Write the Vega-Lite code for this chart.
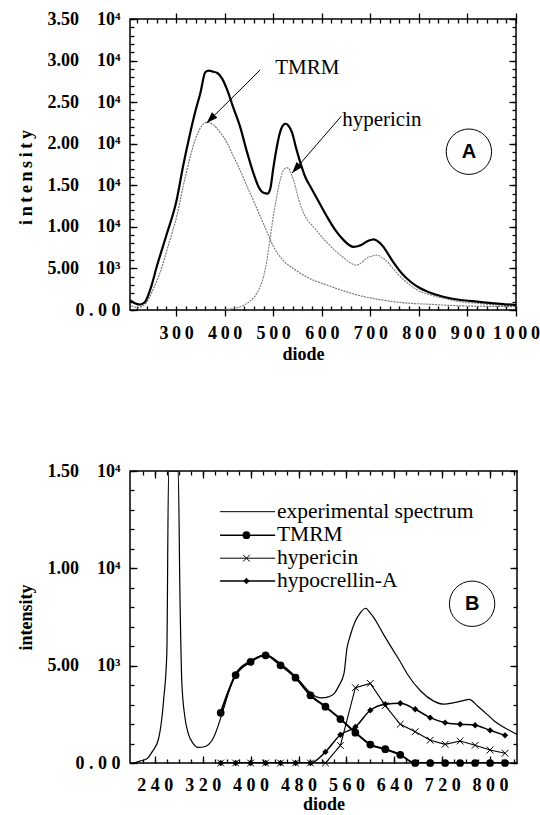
{
  "$schema": "https://vega.github.io/schema/vega-lite/v6.json",
  "padding": {"left": 16, "top": 9, "right": 0, "bottom": 0},
  "spacing": 97,
  "background": "white",
  "config": {
    "font": "Liberation Serif",
    "view": {"stroke": "#000", "strokeWidth": 1.5},
    "axis": {"grid": false, "domain": false, "tickColor": "#000", "tickWidth": 1.3, "labelColor": "#000", "labelFont": "Liberation Serif", "labelFontSize": 18, "labelFontWeight": "bold", "titleFont": "Liberation Serif", "titleFontSize": 18, "titleFontWeight": "bold", "titleColor": "#000", "labelFlush": false, "labelOverlap": false, "labelBound": false}
  },
  "datasets": {
    "a": [
      {"series": "exp", "diode": 205, "intensity": 1200}, {"series": "exp", "diode": 215, "intensity": 800}, {"series": "exp", "diode": 225, "intensity": 650}, {"series": "exp", "diode": 235, "intensity": 900}, {"series": "exp", "diode": 247, "intensity": 2500}, {"series": "exp", "diode": 260, "intensity": 5200}, {"series": "exp", "diode": 280, "intensity": 9000}, {"series": "exp", "diode": 301, "intensity": 13200}, {"series": "exp", "diode": 315, "intensity": 17500}, {"series": "exp", "diode": 329, "intensity": 21300}, {"series": "exp", "diode": 340, "intensity": 24000}, {"series": "exp", "diode": 350, "intensity": 26100}, {"series": "exp", "diode": 360, "intensity": 28600}, {"series": "exp", "diode": 367, "intensity": 28800}, {"series": "exp", "diode": 374, "intensity": 28700}, {"series": "exp", "diode": 385, "intensity": 28500}, {"series": "exp", "diode": 395, "intensity": 27800}, {"series": "exp", "diode": 405, "intensity": 26500}, {"series": "exp", "diode": 418, "intensity": 24300}, {"series": "exp", "diode": 432, "intensity": 22000}, {"series": "exp", "diode": 445, "intensity": 19200}, {"series": "exp", "diode": 459, "intensity": 16500}, {"series": "exp", "diode": 470, "intensity": 14800}, {"series": "exp", "diode": 480, "intensity": 14100}, {"series": "exp", "diode": 488, "intensity": 14000}, {"series": "exp", "diode": 494, "intensity": 14600}, {"series": "exp", "diode": 500, "intensity": 17000}, {"series": "exp", "diode": 510, "intensity": 20400}, {"series": "exp", "diode": 518, "intensity": 22000}, {"series": "exp", "diode": 525, "intensity": 22400}, {"series": "exp", "diode": 531, "intensity": 22200}, {"series": "exp", "diode": 539, "intensity": 21300}, {"series": "exp", "diode": 547, "intensity": 19500}, {"series": "exp", "diode": 556, "intensity": 17700}, {"series": "exp", "diode": 566, "intensity": 16000}, {"series": "exp", "diode": 577, "intensity": 14800}, {"series": "exp", "diode": 594, "intensity": 13000}, {"series": "exp", "diode": 611, "intensity": 11200}, {"series": "exp", "diode": 628, "intensity": 9600}, {"series": "exp", "diode": 645, "intensity": 8400}, {"series": "exp", "diode": 665, "intensity": 7600}, {"series": "exp", "diode": 680, "intensity": 7800}, {"series": "exp", "diode": 695, "intensity": 8300}, {"series": "exp", "diode": 707, "intensity": 8500}, {"series": "exp", "diode": 717, "intensity": 8200}, {"series": "exp", "diode": 727, "intensity": 7600}, {"series": "exp", "diode": 737, "intensity": 6700}, {"series": "exp", "diode": 748, "intensity": 5700}, {"series": "exp", "diode": 765, "intensity": 4400}, {"series": "exp", "diode": 783, "intensity": 3400}, {"series": "exp", "diode": 800, "intensity": 2700}, {"series": "exp", "diode": 818, "intensity": 2200}, {"series": "exp", "diode": 850, "intensity": 1600}, {"series": "exp", "diode": 886, "intensity": 1200}, {"series": "exp", "diode": 920, "intensity": 1000}, {"series": "exp", "diode": 955, "intensity": 800}, {"series": "exp", "diode": 1000, "intensity": 600},
      {"series": "TMRM", "diode": 208, "intensity": 500}, {"series": "TMRM", "diode": 220, "intensity": 300}, {"series": "TMRM", "diode": 232, "intensity": 500}, {"series": "TMRM", "diode": 245, "intensity": 1500}, {"series": "TMRM", "diode": 255, "intensity": 2800}, {"series": "TMRM", "diode": 267, "intensity": 4500}, {"series": "TMRM", "diode": 285, "intensity": 8000}, {"series": "TMRM", "diode": 301, "intensity": 11200}, {"series": "TMRM", "diode": 315, "intensity": 15000}, {"series": "TMRM", "diode": 329, "intensity": 18400}, {"series": "TMRM", "diode": 340, "intensity": 20600}, {"series": "TMRM", "diode": 350, "intensity": 21900}, {"series": "TMRM", "diode": 363, "intensity": 22600}, {"series": "TMRM", "diode": 376, "intensity": 22300}, {"series": "TMRM", "diode": 390, "intensity": 21400}, {"series": "TMRM", "diode": 405, "intensity": 20100}, {"series": "TMRM", "diode": 418, "intensity": 18500}, {"series": "TMRM", "diode": 432, "intensity": 16800}, {"series": "TMRM", "diode": 445, "intensity": 15000}, {"series": "TMRM", "diode": 459, "intensity": 13200}, {"series": "TMRM", "diode": 473, "intensity": 11300}, {"series": "TMRM", "diode": 487, "intensity": 9400}, {"series": "TMRM", "diode": 500, "intensity": 7700}, {"series": "TMRM", "diode": 520, "intensity": 6000}, {"series": "TMRM", "diode": 541, "intensity": 5000}, {"series": "TMRM", "diode": 575, "intensity": 3800}, {"series": "TMRM", "diode": 611, "intensity": 3000}, {"series": "TMRM", "diode": 645, "intensity": 2300}, {"series": "TMRM", "diode": 680, "intensity": 1700}, {"series": "TMRM", "diode": 715, "intensity": 1300}, {"series": "TMRM", "diode": 748, "intensity": 1000}, {"series": "TMRM", "diode": 783, "intensity": 800}, {"series": "TMRM", "diode": 818, "intensity": 700}, {"series": "TMRM", "diode": 886, "intensity": 500}, {"series": "TMRM", "diode": 1000, "intensity": 400},
      {"series": "hypericin", "diode": 400, "intensity": 0}, {"series": "hypericin", "diode": 418, "intensity": 200}, {"series": "hypericin", "diode": 432, "intensity": 400}, {"series": "hypericin", "diode": 446, "intensity": 800}, {"series": "hypericin", "diode": 460, "intensity": 1500}, {"series": "hypericin", "diode": 473, "intensity": 2800}, {"series": "hypericin", "diode": 480, "intensity": 4000}, {"series": "hypericin", "diode": 487, "intensity": 6000}, {"series": "hypericin", "diode": 494, "intensity": 8800}, {"series": "hypericin", "diode": 500, "intensity": 11200}, {"series": "hypericin", "diode": 506, "intensity": 13200}, {"series": "hypericin", "diode": 511, "intensity": 14800}, {"series": "hypericin", "diode": 516, "intensity": 16000}, {"series": "hypericin", "diode": 521, "intensity": 16800}, {"series": "hypericin", "diode": 526, "intensity": 17100}, {"series": "hypericin", "diode": 531, "intensity": 17100}, {"series": "hypericin", "diode": 536, "intensity": 16500}, {"series": "hypericin", "diode": 542, "intensity": 15600}, {"series": "hypericin", "diode": 552, "intensity": 13400}, {"series": "hypericin", "diode": 562, "intensity": 11700}, {"series": "hypericin", "diode": 572, "intensity": 10700}, {"series": "hypericin", "diode": 583, "intensity": 10000}, {"series": "hypericin", "diode": 597, "intensity": 9000}, {"series": "hypericin", "diode": 611, "intensity": 8100}, {"series": "hypericin", "diode": 628, "intensity": 7100}, {"series": "hypericin", "diode": 645, "intensity": 6300}, {"series": "hypericin", "diode": 658, "intensity": 5700}, {"series": "hypericin", "diode": 670, "intensity": 5400}, {"series": "hypericin", "diode": 682, "intensity": 5700}, {"series": "hypericin", "diode": 694, "intensity": 6300}, {"series": "hypericin", "diode": 704, "intensity": 6500}, {"series": "hypericin", "diode": 714, "intensity": 6600}, {"series": "hypericin", "diode": 724, "intensity": 6300}, {"series": "hypericin", "diode": 735, "intensity": 5800}, {"series": "hypericin", "diode": 748, "intensity": 4900}, {"series": "hypericin", "diode": 762, "intensity": 4000}, {"series": "hypericin", "diode": 780, "intensity": 3100}, {"series": "hypericin", "diode": 797, "intensity": 2400}, {"series": "hypericin", "diode": 825, "intensity": 1800}, {"series": "hypericin", "diode": 851, "intensity": 1400}, {"series": "hypericin", "diode": 885, "intensity": 1000}, {"series": "hypericin", "diode": 921, "intensity": 800}, {"series": "hypericin", "diode": 960, "intensity": 600}, {"series": "hypericin", "diode": 1000, "intensity": 500}
    ],
    "b": [
      {"series": "exp", "diode": 205, "intensity": 0}, {"series": "exp", "diode": 215, "intensity": 100}, {"series": "exp", "diode": 226, "intensity": 200}, {"series": "exp", "diode": 236, "intensity": 600}, {"series": "exp", "diode": 246, "intensity": 1220}, {"series": "exp", "diode": 255, "intensity": 3350}, {"series": "exp", "diode": 260, "intensity": 5600}, {"series": "exp", "diode": 263, "intensity": 15500}, {"series": "exp", "diode": 271, "intensity": 42000}, {"series": "exp", "diode": 279, "intensity": 15500}, {"series": "exp", "diode": 282, "intensity": 8500}, {"series": "exp", "diode": 285, "intensity": 4200}, {"series": "exp", "diode": 290, "intensity": 2400}, {"series": "exp", "diode": 296, "intensity": 1500}, {"series": "exp", "diode": 304, "intensity": 1000}, {"series": "exp", "diode": 313, "intensity": 800}, {"series": "exp", "diode": 324, "intensity": 850}, {"series": "exp", "diode": 338, "intensity": 1300}, {"series": "exp", "diode": 352, "intensity": 2500}, {"series": "exp", "diode": 365, "intensity": 3800}, {"series": "exp", "diode": 375, "intensity": 4600}, {"series": "exp", "diode": 400, "intensity": 5250}, {"series": "exp", "diode": 425, "intensity": 5550}, {"series": "exp", "diode": 450, "intensity": 5100}, {"series": "exp", "diode": 475, "intensity": 4450}, {"series": "exp", "diode": 500, "intensity": 3600}, {"series": "exp", "diode": 510, "intensity": 3400}, {"series": "exp", "diode": 519, "intensity": 3350}, {"series": "exp", "diode": 530, "intensity": 3400}, {"series": "exp", "diode": 539, "intensity": 3550}, {"series": "exp", "diode": 548, "intensity": 4000}, {"series": "exp", "diode": 556, "intensity": 4600}, {"series": "exp", "diode": 561, "intensity": 5900}, {"series": "exp", "diode": 566, "intensity": 6500}, {"series": "exp", "diode": 575, "intensity": 7290}, {"series": "exp", "diode": 583, "intensity": 7700}, {"series": "exp", "diode": 592, "intensity": 7950}, {"series": "exp", "diode": 600, "intensity": 7700}, {"series": "exp", "diode": 606, "intensity": 7460}, {"series": "exp", "diode": 622, "intensity": 6610}, {"series": "exp", "diode": 639, "intensity": 5750}, {"series": "exp", "diode": 650, "intensity": 5200}, {"series": "exp", "diode": 662, "intensity": 4560}, {"series": "exp", "diode": 684, "intensity": 3700}, {"series": "exp", "diode": 706, "intensity": 3180}, {"series": "exp", "diode": 723, "intensity": 3020}, {"series": "exp", "diode": 740, "intensity": 3100}, {"series": "exp", "diode": 755, "intensity": 3200}, {"series": "exp", "diode": 765, "intensity": 3270}, {"series": "exp", "diode": 779, "intensity": 2930}, {"series": "exp", "diode": 795, "intensity": 2500}, {"series": "exp", "diode": 807, "intensity": 2160}, {"series": "exp", "diode": 825, "intensity": 1800}, {"series": "exp", "diode": 845, "intensity": 1470},
      {"series": "TMRM", "diode": 350, "intensity": 2580}, {"series": "TMRM", "diode": 375, "intensity": 4520}, {"series": "TMRM", "diode": 400, "intensity": 5200}, {"series": "TMRM", "diode": 425, "intensity": 5530}, {"series": "TMRM", "diode": 450, "intensity": 5020}, {"series": "TMRM", "diode": 475, "intensity": 4380}, {"series": "TMRM", "diode": 500, "intensity": 3480}, {"series": "TMRM", "diode": 525, "intensity": 2890}, {"series": "TMRM", "diode": 550, "intensity": 2260}, {"series": "TMRM", "diode": 575, "intensity": 1560}, {"series": "TMRM", "diode": 600, "intensity": 950}, {"series": "TMRM", "diode": 625, "intensity": 710}, {"series": "TMRM", "diode": 650, "intensity": 420}, {"series": "TMRM", "diode": 675, "intensity": 0}, {"series": "TMRM", "diode": 700, "intensity": 0}, {"series": "TMRM", "diode": 725, "intensity": 0}, {"series": "TMRM", "diode": 750, "intensity": 0}, {"series": "TMRM", "diode": 775, "intensity": 0}, {"series": "TMRM", "diode": 800, "intensity": 0}, {"series": "TMRM", "diode": 825, "intensity": 0},
      {"series": "hypericin", "diode": 350, "intensity": 0}, {"series": "hypericin", "diode": 375, "intensity": 0}, {"series": "hypericin", "diode": 400, "intensity": 0}, {"series": "hypericin", "diode": 425, "intensity": 0}, {"series": "hypericin", "diode": 450, "intensity": 0}, {"series": "hypericin", "diode": 475, "intensity": 0}, {"series": "hypericin", "diode": 500, "intensity": 0}, {"series": "hypericin", "diode": 525, "intensity": 0}, {"series": "hypericin", "diode": 550, "intensity": 900}, {"series": "hypericin", "diode": 575, "intensity": 3870}, {"series": "hypericin", "diode": 600, "intensity": 4090}, {"series": "hypericin", "diode": 625, "intensity": 2950}, {"series": "hypericin", "diode": 650, "intensity": 1990}, {"series": "hypericin", "diode": 675, "intensity": 1610}, {"series": "hypericin", "diode": 700, "intensity": 1170}, {"series": "hypericin", "diode": 725, "intensity": 960}, {"series": "hypericin", "diode": 750, "intensity": 1130}, {"series": "hypericin", "diode": 775, "intensity": 910}, {"series": "hypericin", "diode": 800, "intensity": 670}, {"series": "hypericin", "diode": 825, "intensity": 500},
      {"series": "hypocrellin", "diode": 350, "intensity": 0}, {"series": "hypocrellin", "diode": 375, "intensity": 0}, {"series": "hypocrellin", "diode": 400, "intensity": 0}, {"series": "hypocrellin", "diode": 425, "intensity": 0}, {"series": "hypocrellin", "diode": 450, "intensity": 0}, {"series": "hypocrellin", "diode": 475, "intensity": 0}, {"series": "hypocrellin", "diode": 500, "intensity": 0}, {"series": "hypocrellin", "diode": 525, "intensity": 570}, {"series": "hypocrellin", "diode": 550, "intensity": 1450}, {"series": "hypocrellin", "diode": 575, "intensity": 1850}, {"series": "hypocrellin", "diode": 600, "intensity": 2710}, {"series": "hypocrellin", "diode": 625, "intensity": 3020}, {"series": "hypocrellin", "diode": 650, "intensity": 3070}, {"series": "hypocrellin", "diode": 675, "intensity": 2760}, {"series": "hypocrellin", "diode": 700, "intensity": 2330}, {"series": "hypocrellin", "diode": 725, "intensity": 2070}, {"series": "hypocrellin", "diode": 750, "intensity": 1990}, {"series": "hypocrellin", "diode": 775, "intensity": 1940}, {"series": "hypocrellin", "diode": 800, "intensity": 1680}, {"series": "hypocrellin", "diode": 825, "intensity": 1420}
    ]
  },
  "vconcat": [
    {
      "width": 386, "height": 291,
      "data": {"name": "a"},
      "resolve": {"axis": {"x": "independent", "y": "independent"}},
      "layer": [
        {"mark": {"type": "point", "opacity": 0},
         "encoding": {
           "x": {"field": "diode", "type": "quantitative", "scale": {"domain": [205, 1000], "nice": false, "zero": false},
                 "axis": {"orient": "bottom", "values": [300, 400, 500, 600, 700, 800, 900, 1000], "tickSize": 6, "labelPadding": 8, "labelExpr": "replace(toString(datum.value), regexp('(.)(?=.)', 'g'), '$1\u2009')", "title": "diode", "titlePadding": 3, "titleX": 173}},
           "y": {"field": "intensity", "type": "quantitative", "scale": {"domain": [0, 35000], "nice": false},
                 "axis": {"orient": "left", "values": [0, 5000, 10000, 15000, 20000, 25000, 30000, 35000], "tickSize": -7, "labelPadding": 17, "labelExpr": "datum.value == 0 ? '0 . 0 0' : format(datum.value >= 10000 ? datum.value / 10000 : datum.value / 1000, '.2f') + '\u2003' + (datum.value >= 10000 ? '10\u2074' : '10\u00b3')", "title": "i\u2009n\u2009t\u2009e\u2009n\u2009s\u2009i\u2009t\u2009y", "titlePadding": 12, "titleY": 158}}
         }},
        {"mark": {"type": "point", "opacity": 0},
         "encoding": {
           "x": {"field": "diode", "type": "quantitative", "axis": {"orient": "bottom", "values": [220,240,260,280,300,320,340,360,380,400,420,440,460,480,500,520,540,560,580,600,620,640,660,680,700,720,740,760,780,800,820,840,860,880,900,920,940,960,980,1000], "tickSize": -4, "labels": false, "title": null}},
           "y": {"field": "intensity", "type": "quantitative", "axis": {"orient": "left", "values": [0,1000,2000,3000,4000,5000,6000,7000,8000,9000,10000,11000,12000,13000,14000,15000,16000,17000,18000,19000,20000,21000,22000,23000,24000,25000,26000,27000,28000,29000,30000,31000,32000,33000,34000,35000], "tickSize": -4, "labels": false, "title": null}}
         }},
        {"mark": {"type": "point", "opacity": 0},
         "encoding": {
           "x": {"field": "diode", "type": "quantitative", "axis": {"orient": "top", "values": [300, 400, 500, 600, 700, 800, 900, 1000], "tickSize": 6, "labels": false, "title": null}},
           "y": {"field": "intensity", "type": "quantitative", "axis": {"orient": "right", "values": [0, 5000, 10000, 15000, 20000, 25000, 30000, 35000], "tickSize": -7, "labels": false, "title": null}}
         }},
        {"mark": {"type": "point", "opacity": 0},
         "encoding": {
           "x": {"field": "diode", "type": "quantitative", "axis": {"orient": "top", "values": [220,240,260,280,300,320,340,360,380,400,420,440,460,480,500,520,540,560,580,600,620,640,660,680,700,720,740,760,780,800,820,840,860,880,900,920,940,960,980,1000], "tickSize": -4, "labels": false, "title": null}},
           "y": {"field": "intensity", "type": "quantitative", "axis": {"orient": "right", "values": [0,1000,2000,3000,4000,5000,6000,7000,8000,9000,10000,11000,12000,13000,14000,15000,16000,17000,18000,19000,20000,21000,22000,23000,24000,25000,26000,27000,28000,29000,30000,31000,32000,33000,34000,35000], "tickSize": -4, "labels": false, "title": null}}
         }},
        {"transform": [{"filter": "datum.series == 'TMRM'"}],
         "mark": {"type": "line", "interpolate": "monotone", "clip": true, "color": "#6e6e6e", "strokeWidth": 1.1, "strokeDash": [2, 1]},
         "encoding": {"x": {"field": "diode", "type": "quantitative", "axis": null}, "y": {"field": "intensity", "type": "quantitative", "axis": null}}},
        {"transform": [{"filter": "datum.series == 'hypericin'"}],
         "mark": {"type": "line", "interpolate": "monotone", "clip": true, "color": "#7a7a7a", "strokeWidth": 1.1, "strokeDash": [2, 1]},
         "encoding": {"x": {"field": "diode", "type": "quantitative", "axis": null}, "y": {"field": "intensity", "type": "quantitative", "axis": null}}},
        {"transform": [{"filter": "datum.series == 'exp'"}],
         "mark": {"type": "line", "interpolate": "monotone", "clip": true, "color": "#000000", "strokeWidth": 2.2},
         "encoding": {"x": {"field": "diode", "type": "quantitative", "axis": null}, "y": {"field": "intensity", "type": "quantitative", "axis": null}}},
        {"data": {"values": [{}]},
         "mark": {"type": "text", "font": "Liberation Serif", "fontSize": 21, "align": "center", "baseline": "middle", "color": "#000"},
         "encoding": {"x": {"datum": 570, "type": "quantitative", "axis": null}, "y": {"datum": 29100, "type": "quantitative", "axis": null}, "text": {"value": "TMRM"}}},
        {"data": {"values": [{}]},
         "mark": {"type": "rule", "color": "#000", "strokeWidth": 1},
         "encoding": {"x": {"datum": 473, "type": "quantitative", "axis": null}, "y": {"datum": 28870, "type": "quantitative", "axis": null}, "x2": {"datum": 363}, "y2": {"datum": 22490}}},
        {"data": {"values": [{}]},
         "mark": {"type": "point", "shape": "M0,0L-0.35,1L0.35,1Z", "filled": true, "color": "#000", "opacity": 1, "size": 500, "angle": 225},
         "encoding": {"x": {"datum": 363, "type": "quantitative", "axis": null}, "y": {"datum": 22490, "type": "quantitative", "axis": null}}},
        {"data": {"values": [{}]},
         "mark": {"type": "text", "font": "Liberation Serif", "fontSize": 21, "align": "left", "baseline": "middle", "color": "#000"},
         "encoding": {"x": {"datum": 642, "type": "quantitative", "axis": null}, "y": {"datum": 22850, "type": "quantitative", "axis": null}, "text": {"value": "hypericin"}}},
        {"data": {"values": [{}]},
         "mark": {"type": "rule", "color": "#000", "strokeWidth": 1},
         "encoding": {"x": {"datum": 640, "type": "quantitative", "axis": null}, "y": {"datum": 23300, "type": "quantitative", "axis": null}, "x2": {"datum": 539}, "y2": {"datum": 16480}}},
        {"data": {"values": [{}]},
         "mark": {"type": "point", "shape": "M0,0L-0.35,1L0.35,1Z", "filled": true, "color": "#000", "opacity": 1, "size": 500, "angle": 221},
         "encoding": {"x": {"datum": 539, "type": "quantitative", "axis": null}, "y": {"datum": 16480, "type": "quantitative", "axis": null}}},
        {"data": {"values": [{}]},
         "mark": {"type": "point", "shape": "circle", "filled": false, "color": "#000", "strokeWidth": 1, "opacity": 1, "size": 2061},
         "encoding": {"x": {"datum": 903, "type": "quantitative", "axis": null}, "y": {"datum": 19040, "type": "quantitative", "axis": null}}},
        {"data": {"values": [{}]},
         "mark": {"type": "text", "font": "Liberation Sans", "fontWeight": "bold", "fontSize": 20, "align": "center", "baseline": "middle", "color": "#000"},
         "encoding": {"x": {"datum": 903, "type": "quantitative", "axis": null}, "y": {"datum": 19040, "type": "quantitative", "axis": null}, "text": {"value": "A"}}}
      ]
    },
    {
      "width": 387, "height": 292,
      "data": {"name": "b"},
      "resolve": {"axis": {"x": "independent", "y": "independent"}},
      "layer": [
        {"mark": {"type": "point", "opacity": 0},
         "encoding": {
           "x": {"field": "diode", "type": "quantitative", "scale": {"domain": [198.5, 845], "nice": false, "zero": false},
                 "axis": {"orient": "bottom", "values": [240, 320, 400, 480, 560, 640, 720, 800], "tickSize": -7, "labelPadding": 20, "labelExpr": "replace(toString(datum.value), regexp('(.)(?=.)', 'g'), '$1 ')", "title": "diode", "titlePadding": 1}},
           "y": {"field": "intensity", "type": "quantitative", "scale": {"domain": [0, 15000], "nice": false, "clamp": true},
                 "axis": {"orient": "left", "values": [0, 5000, 10000, 15000], "tickSize": -7, "labelPadding": 17, "labelExpr": "datum.value == 0 ? '0 . 0 0' : format(datum.value >= 10000 ? datum.value / 10000 : datum.value / 1000, '.2f') + '\u2003' + (datum.value >= 10000 ? '10\u2074' : '10\u00b3')", "title": "intensity", "titlePadding": 12}}
         }},
        {"mark": {"type": "point", "opacity": 0},
         "encoding": {
           "x": {"field": "diode", "type": "quantitative", "axis": {"orient": "bottom", "values": [220,240,260,280,300,320,340,360,380,400,420,440,460,480,500,520,540,560,580,600,620,640,660,680,700,720,740,760,780,800,820,840], "tickSize": -4, "labels": false, "title": null}},
           "y": {"field": "intensity", "type": "quantitative", "axis": {"orient": "left", "values": [0,1000,2000,3000,4000,5000,6000,7000,8000,9000,10000,11000,12000,13000,14000,15000], "tickSize": -4, "labels": false, "title": null}}
         }},
        {"mark": {"type": "point", "opacity": 0},
         "encoding": {
           "x": {"field": "diode", "type": "quantitative", "axis": {"orient": "top", "values": [240, 320, 400, 480, 560, 640, 720, 800], "tickSize": -7, "labels": false, "title": null}},
           "y": {"field": "intensity", "type": "quantitative", "axis": {"orient": "right", "values": [0, 5000, 10000, 15000], "tickSize": -7, "labels": false, "title": null}}
         }},
        {"mark": {"type": "point", "opacity": 0},
         "encoding": {
           "x": {"field": "diode", "type": "quantitative", "axis": {"orient": "top", "values": [220,240,260,280,300,320,340,360,380,400,420,440,460,480,500,520,540,560,580,600,620,640,660,680,700,720,740,760,780,800,820,840], "tickSize": -4, "labels": false, "title": null}},
           "y": {"field": "intensity", "type": "quantitative", "axis": {"orient": "right", "values": [0,1000,2000,3000,4000,5000,6000,7000,8000,9000,10000,11000,12000,13000,14000,15000], "tickSize": -4, "labels": false, "title": null}}
         }},
        {"transform": [{"filter": "datum.series == 'exp'"}],
         "mark": {"type": "line", "interpolate": "monotone", "clip": true, "color": "#000", "strokeWidth": 1.2},
         "encoding": {"x": {"field": "diode", "type": "quantitative", "axis": null}, "y": {"field": "intensity", "type": "quantitative", "axis": null}}},
        {"transform": [{"filter": "datum.series == 'TMRM'"}],
         "mark": {"type": "line", "interpolate": "monotone", "clip": true, "color": "#000", "strokeWidth": 2},
         "encoding": {"x": {"field": "diode", "type": "quantitative", "axis": null}, "y": {"field": "intensity", "type": "quantitative", "axis": null}}},
        {"transform": [{"filter": "datum.series == 'hypericin'"}],
         "mark": {"type": "line", "interpolate": "linear", "clip": true, "color": "#000", "strokeWidth": 1.1},
         "encoding": {"x": {"field": "diode", "type": "quantitative", "axis": null}, "y": {"field": "intensity", "type": "quantitative", "axis": null}}},
        {"transform": [{"filter": "datum.series == 'hypocrellin'"}],
         "mark": {"type": "line", "interpolate": "monotone", "clip": true, "color": "#000", "strokeWidth": 1.5},
         "encoding": {"x": {"field": "diode", "type": "quantitative", "axis": null}, "y": {"field": "intensity", "type": "quantitative", "axis": null}}},
        {"transform": [{"filter": "datum.series == 'TMRM'"}],
         "mark": {"type": "point", "shape": "circle", "filled": true, "color": "#000", "opacity": 1, "size": 60},
         "encoding": {"x": {"field": "diode", "type": "quantitative", "axis": null}, "y": {"field": "intensity", "type": "quantitative", "axis": null}}},
        {"transform": [{"filter": "datum.series == 'hypocrellin'"}],
         "mark": {"type": "point", "shape": "diamond", "filled": true, "color": "#000", "opacity": 1, "size": 40},
         "encoding": {"x": {"field": "diode", "type": "quantitative", "axis": null}, "y": {"field": "intensity", "type": "quantitative", "axis": null}}},
        {"transform": [{"filter": "datum.series == 'hypericin'"}],
         "mark": {"type": "point", "shape": "M-1,-1L1,1M-1,1L1,-1", "filled": false, "color": "#000", "strokeWidth": 1, "opacity": 1, "size": 45},
         "encoding": {"x": {"field": "diode", "type": "quantitative", "axis": null}, "y": {"field": "intensity", "type": "quantitative", "axis": null}}},
        {"data": {"values": [{}]},
         "mark": {"type": "rule", "color": "#000", "strokeWidth": 1},
         "encoding": {"x": {"datum": 349, "type": "quantitative", "axis": null}, "x2": {"datum": 441}, "y": {"datum": 12910, "type": "quantitative", "axis": null}}},
        {"data": {"values": [{}]},
         "mark": {"type": "rule", "color": "#000", "strokeWidth": 1.6},
         "encoding": {"x": {"datum": 349, "type": "quantitative", "axis": null}, "x2": {"datum": 441}, "y": {"datum": 11700, "type": "quantitative", "axis": null}}},
        {"data": {"values": [{}]},
         "mark": {"type": "rule", "color": "#000", "strokeWidth": 1},
         "encoding": {"x": {"datum": 349, "type": "quantitative", "axis": null}, "x2": {"datum": 441}, "y": {"datum": 10520, "type": "quantitative", "axis": null}}},
        {"data": {"values": [{}]},
         "mark": {"type": "rule", "color": "#000", "strokeWidth": 1.4},
         "encoding": {"x": {"datum": 349, "type": "quantitative", "axis": null}, "x2": {"datum": 441}, "y": {"datum": 9350, "type": "quantitative", "axis": null}}},
        {"data": {"values": [{}]},
         "mark": {"type": "point", "shape": "circle", "filled": true, "color": "#000", "opacity": 1, "size": 60},
         "encoding": {"x": {"datum": 393, "type": "quantitative", "axis": null}, "y": {"datum": 11700, "type": "quantitative", "axis": null}}},
        {"data": {"values": [{}]},
         "mark": {"type": "point", "shape": "M-1,-1L1,1M-1,1L1,-1", "filled": false, "color": "#000", "strokeWidth": 1, "opacity": 1, "size": 45},
         "encoding": {"x": {"datum": 393, "type": "quantitative", "axis": null}, "y": {"datum": 10520, "type": "quantitative", "axis": null}}},
        {"data": {"values": [{}]},
         "mark": {"type": "point", "shape": "diamond", "filled": true, "color": "#000", "opacity": 1, "size": 40},
         "encoding": {"x": {"datum": 393, "type": "quantitative", "axis": null}, "y": {"datum": 9350, "type": "quantitative", "axis": null}}},
        {"data": {"values": [{}]},
         "mark": {"type": "text", "font": "Liberation Serif", "fontSize": 21.5, "align": "left", "baseline": "middle", "color": "#000"},
         "encoding": {"x": {"datum": 444, "type": "quantitative", "axis": null}, "y": {"datum": 12910, "type": "quantitative", "axis": null}, "text": {"value": "experimental spectrum"}}},
        {"data": {"values": [{}]},
         "mark": {"type": "text", "font": "Liberation Serif", "fontSize": 21.5, "align": "left", "baseline": "middle", "color": "#000"},
         "encoding": {"x": {"datum": 444, "type": "quantitative", "axis": null}, "y": {"datum": 11700, "type": "quantitative", "axis": null}, "text": {"value": "TMRM"}}},
        {"data": {"values": [{}]},
         "mark": {"type": "text", "font": "Liberation Serif", "fontSize": 21.5, "align": "left", "baseline": "middle", "color": "#000"},
         "encoding": {"x": {"datum": 444, "type": "quantitative", "axis": null}, "y": {"datum": 10520, "type": "quantitative", "axis": null}, "text": {"value": "hypericin"}}},
        {"data": {"values": [{}]},
         "mark": {"type": "text", "font": "Liberation Serif", "fontSize": 21.5, "align": "left", "baseline": "middle", "color": "#000"},
         "encoding": {"x": {"datum": 444, "type": "quantitative", "axis": null}, "y": {"datum": 9350, "type": "quantitative", "axis": null}, "text": {"value": "hypocrellin-A"}}},
        {"data": {"values": [{}]},
         "mark": {"type": "point", "shape": "circle", "filled": false, "color": "#000", "strokeWidth": 1, "opacity": 1, "size": 2061},
         "encoding": {"x": {"datum": 770, "type": "quantitative", "axis": null}, "y": {"datum": 8180, "type": "quantitative", "axis": null}}},
        {"data": {"values": [{}]},
         "mark": {"type": "text", "font": "Liberation Sans", "fontWeight": "bold", "fontSize": 20, "align": "center", "baseline": "middle", "color": "#000"},
         "encoding": {"x": {"datum": 770, "type": "quantitative", "axis": null}, "y": {"datum": 8180, "type": "quantitative", "axis": null}, "text": {"value": "B"}}}
      ]
    }
  ]
}
